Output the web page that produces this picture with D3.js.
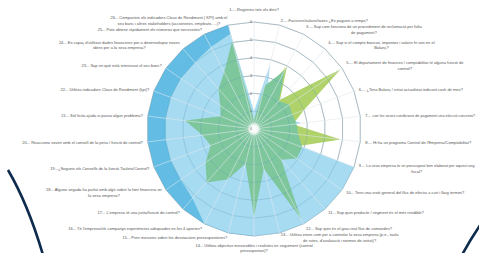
<!DOCTYPE html>
<html>
<head>
<meta charset="utf-8">
<script src="https://cdn.jsdelivr.net/npm/d3@7"></script>
<style>
  body { margin: 0; background: #fff; }
  svg { display: block; }
</style>
</head>
<body>
<div id="chart"></div>
<script>
// questions, one per spoke (clockwise from the top)
const categories = [
  "1.....Registreu tots els dies?",
  "2.....Factures/salaris/taxes ¿Es paguen a temps?",
  "3.... Sap com funciona de un procediment de reclamació per falta\nde pagament?",
  "4.... Sap si el compte bancari, impostos i salaris fn son en el\nBalanç?",
  "5.... El departament de finances / comptabilitat té alguna funció de\ncontrol?",
  "6.... ¿Tens Balanç / estat actualitzat indicant cash de mes?",
  "7.... con les seves condicions de pagament una elecció concreta?",
  "8.... Hi ha un programa Control de l'Empresa/Comptabilitat?",
  "9.... La seva empresa te un pressupost ben elaborat per aquest any\nfiscal?",
  "10... Tens una visió general del flux de efectiu a curt i llarg termini?",
  "11... Sap quin producte / segment és el més rendible?",
  "12... Sap quin és el grau real flux de comandes?",
  "13... Utilitza eines com per a controlar la seva empresa (p.e., taula\nde rutes, d'avaluació i normes de unitat)?",
  "14... Utilitza objectius mesurables i realistes en seguiment (control\npressupostari)?",
  "15... Pren mesures sobre les desviacions pressupostàries?",
  "16... Té l'empresa/els companys experiències adequades en les 4 aportes?",
  "17... L'empresa té una junta/funció de control?",
  "18... Alguna vegada ha parlat amb algú sobre la font financera en\nla seva empresa?",
  "19...¿Segueix els Consells de la funció Tauleta/Control?",
  "20... Reacciona sovint amb el consell de la junta / funció de control?",
  "21... Sol·licita ajuda si passa algun problema?",
  "22... Utilitza indicadors Claus de Rendiment (kpi)?",
  "23... Sap en què està interessat el seu banc?",
  "24... Es capaç d'utilitzar dades financeres per a desenvolupar noves\nidees per a la seva empresa?",
  "25... Pots obtenir ràpidament els números que necessites?",
  "26... Comparteix els indicadors Claus de Rendiment ( KPI) amb el\nseu banc i altres stakeholders (accionistes, empleats, ...)?"
];

// four series, values 0..6
const seriesDark  = [0.3,0.5,0.5,0.5,0.5,0.5,0.5,0.5,0.5,0.5,0.5,0.5,0.5,6,6,6,6,6,6,6,6,6,6,6,6,6];
const seriesLight = [1.0,3.7,1.5,1.2,1.5,1.8,2.7,0.3,6,6,6,6,6,6,6,6,5.2,5,5,5,5,5,5,5,5.2,5.5];
const seriesLime  = [0.4,2.0,4.0,2.2,5.9,3.0,2.2,4.9,2.7,2.2,1.8,2.0,1.8,1.8,1.5,1.8,2.0,2.0,1.8,1.8,2.0,1.5,1.8,2.0,2.0,2.0];
const seriesGreen = [0.5,2.5,3.7,2.1,2.4,2.3,2.4,2.5,2.9,2.9,2.3,5.7,2.3,4.9,2.0,3.2,4.0,3.3,2.6,2.9,3.9,2.0,2.3,3.0,3.6,5.1];

const tickValues = [0,1,2,3,4,5,6];

const W = 479, H = 253;
const cx = 254, cy = 129, R = 107;

const svg = d3.select("#chart").append("svg")
  .attr("width", W)
  .attr("height", H);

svg.append("rect").attr("width", W).attr("height", H).attr("fill", "#fff");

// decorative slide arcs
svg.append("path")
  .attr("d", "M8,170 Q28,204 43,255")
  .attr("fill", "none").attr("stroke", "#0d2b4c").attr("stroke-width", 2.6);
svg.append("path")
  .attr("d", "M462,255 Q470,240 481,224")
  .attr("fill", "none").attr("stroke", "#0d2b4c").attr("stroke-width", 2.6);

const g = svg.append("g").attr("transform", `translate(${cx},${cy})`);

const n = categories.length;
const angle = d3.scaleLinear().domain([0, n]).range([0, 2 * Math.PI]);
const r = d3.scaleLinear().domain([0, 6]).range([0, R]);

const radial = d3.lineRadial()
  .angle((d, i) => angle(i))
  .radius(d => r(d))
  .curve(d3.curveLinearClosed);

// rings under the fills
g.append("g").selectAll("path").data(tickValues.slice(1)).enter().append("path")
  .attr("d", t => radial(d3.range(n).map(() => t)))
  .attr("fill", "none")
  .attr("stroke", "#b8b8b8")
  .attr("stroke-width", 0.7);

// series fills
const series = [
  {vals: seriesDark,  color: "#62bce4"},
  {vals: seriesLight, color: "#a7dbf1"},
  {vals: seriesLime,  color: "#afd26a"},
  {vals: seriesGreen, color: "#7ec79d"}
];
g.append("g").selectAll("path").data(series).enter().append("path")
  .attr("d", s => radial(s.vals))
  .attr("fill", d => d.color)
  .attr("stroke", "none");

// grid over the fills
g.append("g").selectAll("path").data(tickValues.slice(1)).enter().append("path")
  .attr("d", t => radial(d3.range(n).map(() => t)))
  .attr("fill", "none")
  .attr("stroke", "#4f93b3")
  .attr("stroke-opacity", 0.4)
  .attr("stroke-width", 0.7);

g.append("g").selectAll("line").data(d3.range(n)).enter().append("line")
  .attr("x1", 0).attr("y1", 0)
  .attr("x2", i => Math.sin(angle(i)) * R)
  .attr("y2", i => -Math.cos(angle(i)) * R)
  .attr("stroke", "#dfe8ec")
  .attr("stroke-opacity", 0.85)
  .attr("stroke-width", 0.7);

// centre glow
const grad = svg.append("defs").append("radialGradient").attr("id", "glow");
grad.append("stop").attr("offset", "0%").attr("stop-color", "#fff").attr("stop-opacity", 1);
grad.append("stop").attr("offset", "60%").attr("stop-color", "#fff").attr("stop-opacity", 0.8);
grad.append("stop").attr("offset", "100%").attr("stop-color", "#fff").attr("stop-opacity", 0);
g.append("circle").attr("r", 7).attr("fill", "url(#glow)");

// tick labels along the first spoke
g.append("g").selectAll("text").data(tickValues).enter().append("text")
  .attr("x", -2)
  .attr("y", t => -r(t))
  .attr("dy", "0.35em")
  .attr("text-anchor", "end")
  .attr("font-family", "Liberation Sans, Arial, sans-serif")
  .attr("font-size", 3.6)
  .attr("fill", "#666")
  .text(t => t);

// question labels
const fs = 4.0, lh = 5.8;
const labels = g.append("g")
  .attr("font-family", "Liberation Sans, Arial, sans-serif")
  .attr("font-size", fs)
  .attr("fill", "#555");

categories.forEach((c, i) => {
  const a = angle(i);
  const s = Math.sin(a), co = Math.cos(a);
  const rl = Math.abs(s) < 0.05 ? 119 : 112;
  const x = s * rl, y = -co * rl;
  const lines = c.split("\n");
  const lg = labels.append("g").attr("transform", `translate(${x},${y})`);
  const txt = lines.map((l, k) => lg.append("text")
    .attr("y", (k - (lines.length - 1) / 2) * lh)
    .attr("dy", "0.35em")
    .attr("text-anchor", "middle")
    .text(l));
  // shrink a label that would run past the right edge
  const room = W - 4 - (cx + x);
  if (s > 0.05) {
    const len = d3.max(txt, t => t.node().getComputedTextLength());
    if (len > room) txt.forEach(t => t.attr("font-size", fs * room / len));
  }
  const w = d3.max(txt, t => t.node().getComputedTextLength());
  let off = 0;
  if (s > 0.05) off = w / 2;
  else if (s < -0.05) off = -w / 2;
  txt.forEach(t => t.attr("x", off));
});
</script>
</body>
</html>
